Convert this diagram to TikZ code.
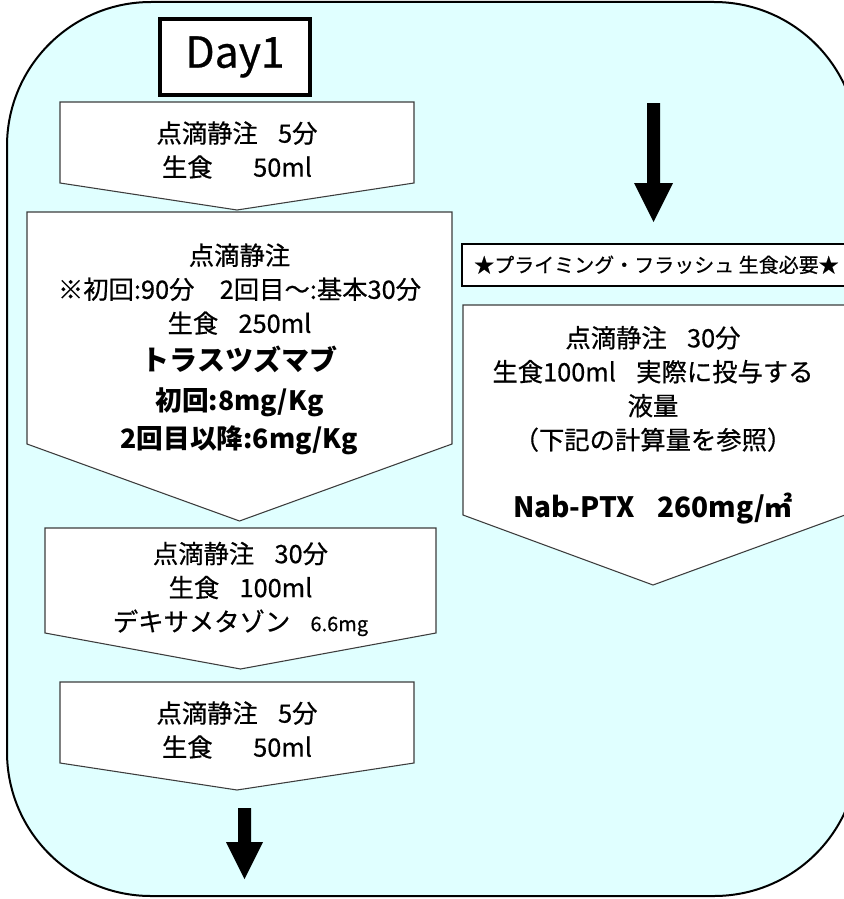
\documentclass[tikz,border=0pt]{standalone}
\usepackage{fontspec}
\setmainfont{Noto Sans CJK JP}[UprightFeatures={FakeBold=0.6}]
\usetikzlibrary{positioning}
\definecolor{bgcyan}{RGB}{224,255,255}
\definecolor{edgegray}{RGB}{60,60,60}
\newcommand{\stepgap}{\hspace{0.8em}}

\begin{document}
\begin{tikzpicture}[x=0.75pt, y=-0.75pt,
    frame/.style={draw=black, line width=1.5pt, fill=bgcyan, rounded corners=108pt},
    stepbox/.style={draw=edgegray, line width=0.8pt, fill=white},
    blockarrow/.style={fill=black},
    txt/.style={align=center, inner sep=0pt, font=\fontsize{19}{25.5}\selectfont}]
    \useasboundingbox (0,0) rectangle (843,899);

    % Background frame
    \draw[frame] (7,2) rectangle (858,896);

    % Day label
    \node[draw, line width=3pt, fill=white, minimum width=112pt, minimum height=57pt,
          inner sep=0pt, font=\fontsize{32}{36}\selectfont] (Day) at (235,57) {Day1};

    % Flush steps (5 min)
    \foreach \y/\n in {102/1, 682/4}
    {
        \draw[stepbox] (60,\y) -- (414,\y) -- (414,\y+81) -- (237,\y+108) -- (60,\y+81) -- cycle;
        \node[txt] (Step-\n) at (237,\y+48) {点滴静注\stepgap 5分\\生食\hspace{1.6em}50ml};
    }

    % Trastuzumab step
    \draw[stepbox] (27,212) -- (452,212) -- (452,444) -- (239.5,521) -- (27,444) -- cycle;
    \node[txt] (Step-2) at (239.5,349)
        {点滴静注\\
         ※初回:90分\hspace{1em}2回目〜:基本30分\\
         生食\stepgap 250ml\\[3pt]
         {\fontsize{21}{25.5}\selectfont\bfseries トラスツズマブ}\\[4pt]
         {\fontsize{20}{25.5}\selectfont\bfseries 初回:8mg/Kg}\\[3pt]
         {\fontsize{20}{25.5}\selectfont\bfseries 2回目以降:6mg/Kg}};

    % Dexamethasone step
    \draw[stepbox] (45,528) -- (436,528) -- (436,633) -- (240.5,669) -- (45,633) -- cycle;
    \node[txt] (Step-3) at (240.5,589)
        {点滴静注\stepgap 30分\\生食\stepgap 100ml\\デキサメタゾン\stepgap{\fontsize{15}{25.5}\selectfont 6.6mg}};

    % Arrow below the last step
    \fill[blockarrow] (238,808) -- (251,808) -- (251,842) -- (263,842) -- (244.5,879)
        -- (226,842) -- (238,842) -- cycle;

    % Right column: arrow, note and Nab-PTX step
    \fill[blockarrow] (647,103) -- (660,103) -- (660,183) -- (673,183) -- (653.5,222)
        -- (634,183) -- (647,183) -- cycle;
    \node[draw, line width=1.2pt, fill=white, minimum width=292pt, minimum height=31.5pt,
          inner sep=0pt, anchor=north west, font=\fontsize{15}{18}\selectfont]
        (Priming) at (461,243) {★プライミング・フラッシュ 生食必要★};
    \draw[stepbox] (463,305) -- (845,305) -- (845,515) -- (653,585) -- (463,515) -- cycle;
    \node[txt] (Nab) at (653,425)
        {点滴静注\stepgap 30分\\
         生食100ml\stepgap 実際に投与する\\
         液量\\
         （下記の計算量を参照）\\[25.5pt]
         {\fontsize{21}{25.5}\selectfont\bfseries Nab-PTX\stepgap 260mg/㎡}};
\end{tikzpicture}
\end{document}
